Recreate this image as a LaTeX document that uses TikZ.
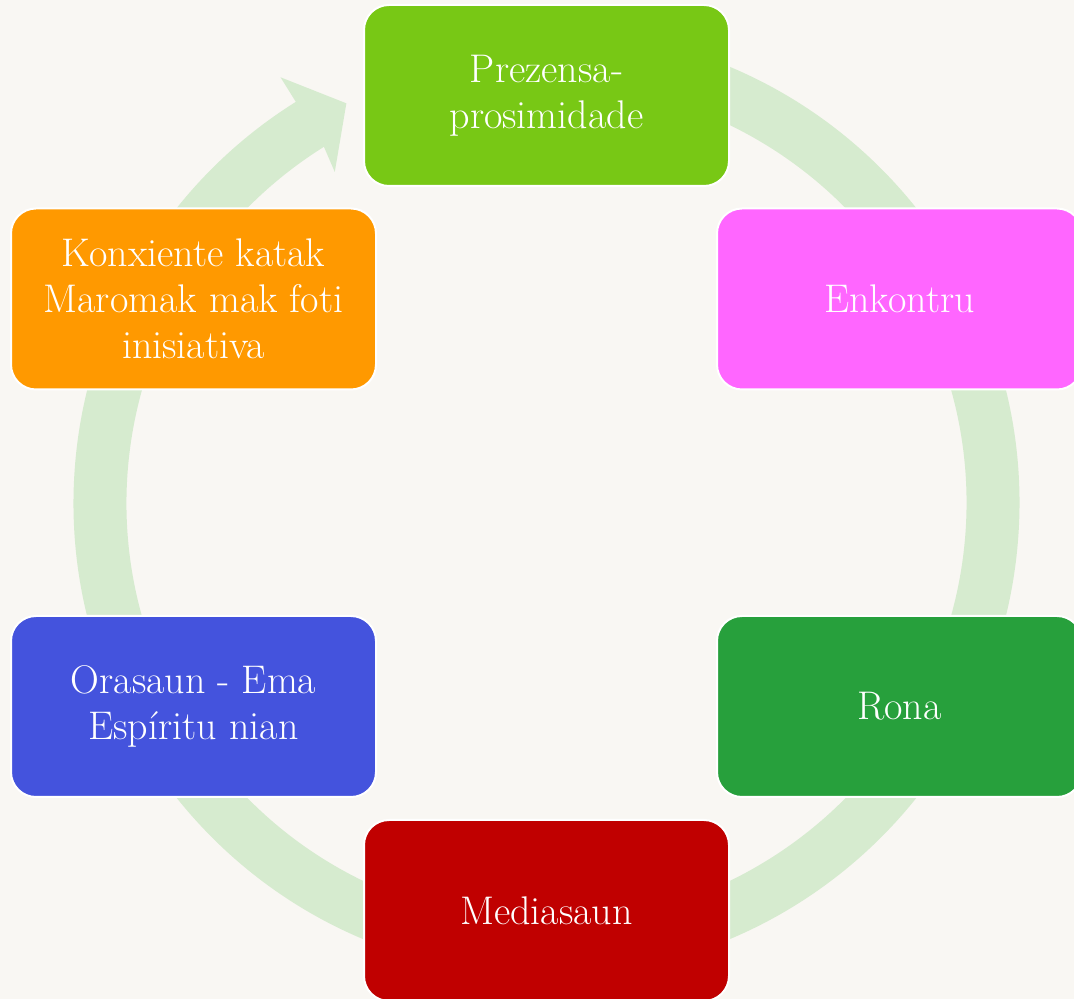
\documentclass[tikz,border=0pt]{standalone}
\usepackage{fontspec}
\usetikzlibrary{calc}
\definecolor{bgpaper}{HTML}{F9F7F3}
\definecolor{ringgreen}{HTML}{D6EBCF}
\definecolor{cLime}{HTML}{78C815}
\definecolor{cPink}{HTML}{FF66FF}
\definecolor{cOrange}{HTML}{FF9900}
\definecolor{cBlue}{HTML}{4453DD}
\definecolor{cGreen}{HTML}{27A03C}
\definecolor{cRed}{HTML}{C00000}
\tikzset{
  cyclebox/.style={draw=white, line width=2pt, rounded corners=25pt,
    minimum width=365pt, minimum height=181pt, inner sep=0pt,
    text=white, align=center,
    font=\fontsize{40}{46}\selectfont},
}
\begin{document}
\begin{tikzpicture}[x=1pt,y=1pt]
\useasboundingbox (0,0) rectangle (1074,999);
\fill[bgpaper] (0,0) rectangle (1074,999);
\clip (0,0) rectangle (1074,999);
\coordinate (c) at (546.5,496);
% ring with arrowhead
\fill[ringgreen]
  ($(c)+(85:473pt)$) arc[start angle=85, end angle=-238, radius=473pt]
  -- ($(c)+(-238:502pt)$) -- ($(c)+(-243.4:447pt)$) -- ($(c)+(-237.4:393pt)$)
  -- ($(c)+(-238:420pt)$) arc[start angle=-238, end angle=85, radius=420pt] -- cycle;
% boxes
\node[cyclebox, fill=cLime]   (top)  at (546.5,903.5) {Prezensa-\\prosimidade};
\node[cyclebox, fill=cPink]   (enk)  at (899.5,700)   {Enkontru};
\node[cyclebox, fill=cGreen]  (rona) at (899.5,292.5) {Rona};
\node[cyclebox, fill=cRed]    (med)  at (546.5,88.5)  {Mediasaun};
\node[cyclebox, fill=cBlue]   (ora)  at (193.5,292.5) {Orasaun - Ema\\Espíritu nian};
\node[cyclebox, fill=cOrange] (kon)  at (193.5,700)   {Konxiente katak\\Maromak mak foti\\inisiativa};
\end{tikzpicture}
\end{document}
